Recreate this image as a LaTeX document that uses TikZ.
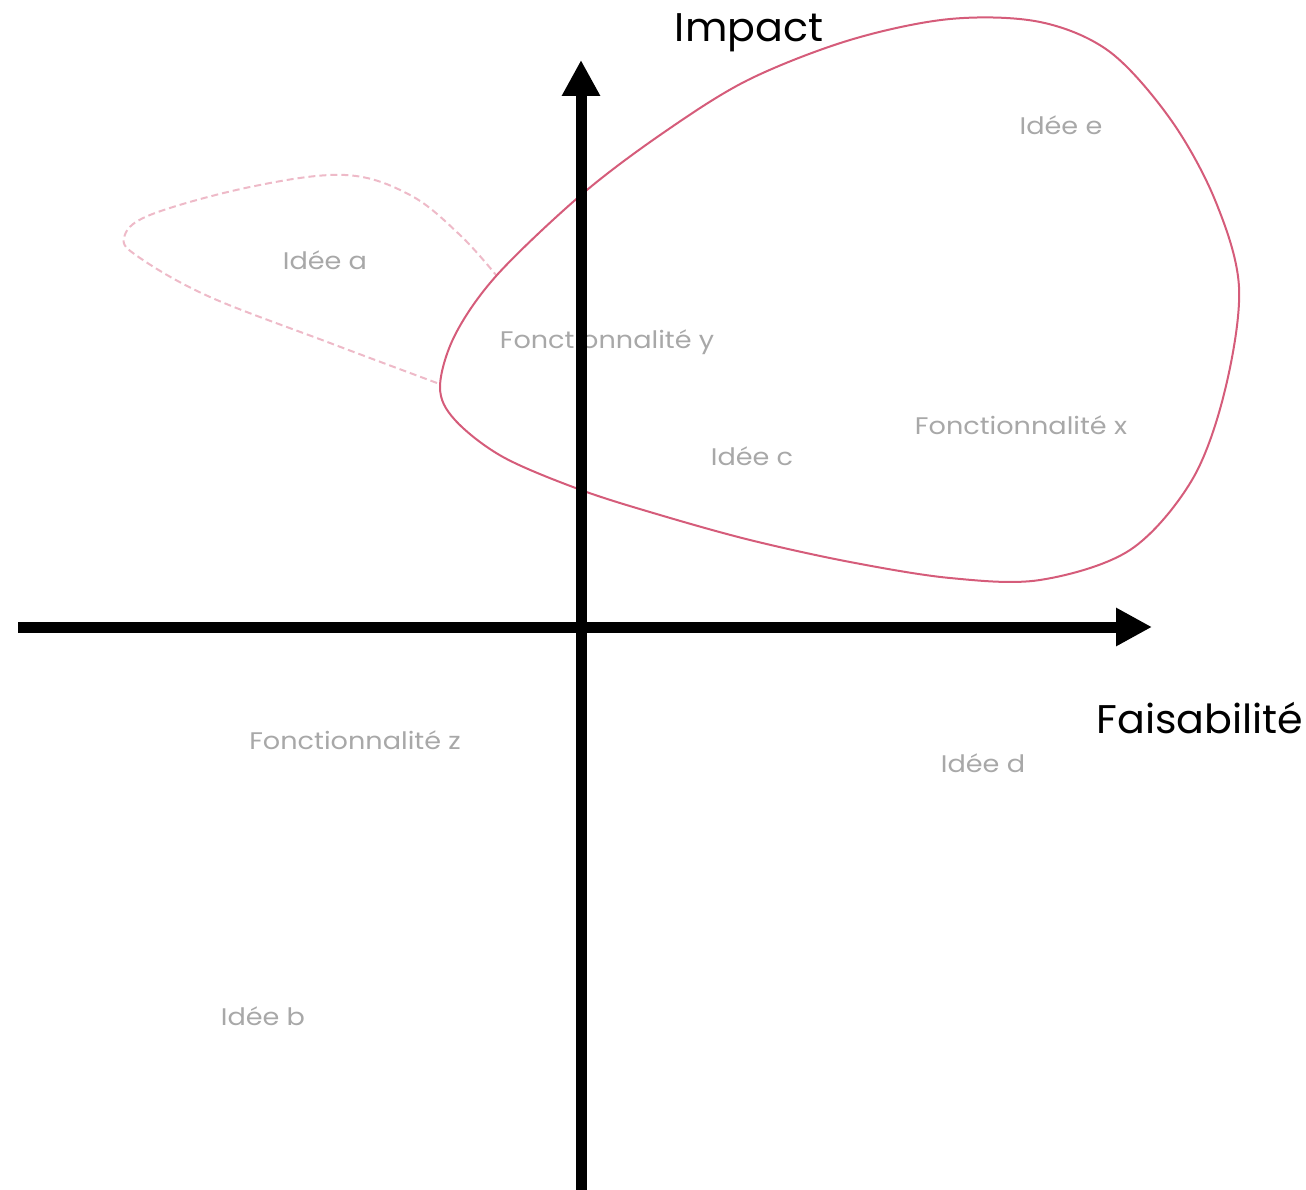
\documentclass[tikz,border=0pt]{standalone}
\usepackage{fontspec}
\setmainfont{Poppins}
\newfontfamily\ideafont[FakeStretch=1.13]{Poppins}
\newfontfamily\axisfont[FakeStretch=1.03]{Poppins}
\usetikzlibrary{arrows.meta}
\definecolor{curvered}{RGB}{213,92,122}
\definecolor{curvepink}{RGB}{238,186,200}
\definecolor{labelgray}{RGB}{168,168,168}
\tikzset{
  idea/.style={text=labelgray, font=\ideafont\fontsize{24}{28}\selectfont, inner sep=0pt},
  axislabel/.style={text=black, font=\axisfont\fontsize{40}{46}\selectfont, inner sep=0pt},
  axisline/.style={line width=11pt, -{Triangle[length=36pt,width=36pt]}},
}
\begin{document}
\begin{tikzpicture}[x=1pt,y=-1pt]
\useasboundingbox (0,0) rectangle (1306,1190);
% labels
\node[axislabel] (impact) at (749,33) {Impact};
\node[axislabel] (faisab) at (1200,718) {Faisabilité};
\node[idea] (ie) at (1061,125) {Idée e};
\node[idea] (ia) at (325,260) {Idée a};
\node[idea] (fy) at (607,342) {Fonctionnalité y};
\node[idea] (fx) at (1021,425) {Fonctionnalité x};
\node[idea] (ic) at (752,456) {Idée c};
\node[idea] (fz) at (355,740) {Fonctionnalité z};
\node[idea] (id) at (983,763) {Idée d};
\node[idea] (ib) at (263,1016) {Idée b};
% curves
\draw[curvepink, line width=2pt, dash pattern=on 7pt off 4pt]
  plot[smooth, tension=0.6] coordinates {(437,383) (330,343) (210,297) (140,258) (124,238) (150,215) (250,187) (345,175) (410,195) (460,235) (496,275)};
\draw[curvered, line width=2pt]
  plot[smooth cycle, tension=0.55] coordinates {(440,387) (455,335) (497,275) (581,195) (663,133) (748,80) (850,40) (950,19) (1040,22) (1110,52) (1171,120) (1215,200) (1239,287) (1225,390) (1192,480) (1130,550) (1040,580) (950,578) (850,562) (750,540) (660,515) (581,490) (503,457) (455,420)};
% axes
\coordinate (xs) at (18,627);
\coordinate (xe) at (1152,627);
\coordinate (ys) at (581,1190);
\coordinate (ye) at (581,60);
\draw[axisline] (xs) -- (xe);
\draw[axisline] (ys) -- (ye);
\end{tikzpicture}
\end{document}
